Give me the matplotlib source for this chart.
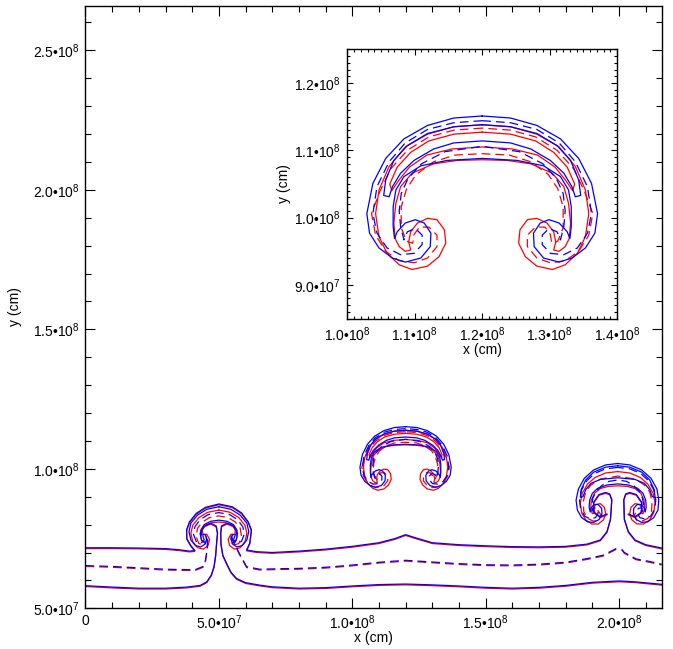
import numpy as np
import matplotlib
matplotlib.use('Agg')
import matplotlib.pyplot as plt
from matplotlib.ticker import MultipleLocator
from matplotlib import transforms

plt.rcParams['font.family'] = ['Liberation Sans', 'DejaVu Sans']
plt.rcParams['mathtext.fontset'] = 'custom'
plt.rcParams['mathtext.rm'] = 'Liberation Sans'
plt.rcParams['mathtext.default'] = 'regular'

# all coordinates in units of 1e7 cm
# interfaces across the box
top_solid_a = [(0, 7.17), (1, 7.17), (2, 7.16), (3, 7.14), (3.5, 7.1), (3.9, 7.05), (4.1, 7.07),
               (3.95, 7.25), (3.8, 7.5), (3.79, 7.81), (3.9, 8.1), (4.15, 8.4), (4.5, 8.62), (5.0, 8.74),
               (5.5, 8.64), (5.85, 8.42), (6.1, 8.1), (6.22, 7.81), (6.16, 7.34), (6.04, 7.09),
               (6.41, 7.03), (7, 7.0), (8, 7.05), (9, 7.12), (10, 7.22), (11, 7.35), (11.6, 7.5), (12.0, 7.64),
               (12.4, 7.52), (13, 7.35), (14, 7.28), (15, 7.24), (16, 7.21), (17, 7.2), (18, 7.22),
               (18.8, 7.3), (19.3, 7.45), (19.55, 7.75), (19.68, 8.2), (19.73, 8.9), (19.65, 9.1),
               (19.5, 9.15), (19.25, 9.08), (19.05, 8.8), (19.05, 8.45), (19.3, 8.28), (19.55, 8.38)]
top_solid_b = [(20.35, 8.38), (20.6, 8.28), (20.85, 8.45), (20.85, 8.8), (20.65, 9.08), (20.4, 9.15),
               (20.25, 9.1), (20.18, 8.9), (20.2, 8.2), (20.35, 7.75), (20.6, 7.45), (21.0, 7.28),
               (21.6, 7.16)]
bottom_solid_a = [(0, 5.81), (1, 5.76), (2, 5.72), (3, 5.72), (3.8, 5.76), (4.3, 5.82), (4.55, 5.95),
                  (4.72, 6.2), (4.82, 6.5), (4.88, 6.9), (4.92, 7.4), (4.95, 7.7), (4.9, 7.95),
                  (4.7, 8.05), (4.45, 7.95), (4.3, 7.7), (4.35, 7.45), (4.5, 7.35)]
bottom_solid_b = [(5.5, 7.35), (5.65, 7.45), (5.7, 7.7), (5.55, 7.95), (5.3, 8.05), (5.1, 7.95),
                  (5.07, 7.7), (5.08, 7.3), (5.15, 6.9), (5.29, 6.61), (5.45, 6.3), (5.66, 6.07),
                  (6.0, 5.92), (6.54, 5.83), (7, 5.77), (8, 5.72), (9, 5.74), (10, 5.8), (11, 5.85),
                  (12, 5.87), (13, 5.84), (14, 5.8), (15, 5.75), (16, 5.72), (17, 5.75), (18, 5.82),
                  (19, 5.93), (20, 5.98), (20.6, 5.95), (21.6, 5.86)]
mid_dash_a = [(0, 6.53), (1, 6.5), (2, 6.45), (3, 6.4), (4.1, 6.38), (4.41, 6.5), (4.5, 6.73),
              (4.56, 7.1), (4.58, 7.45), (4.52, 7.6)]
mid_dash_b = [(5.45, 7.6), (5.53, 7.45), (5.75, 7.0), (6.04, 6.49), (6.54, 6.4), (7.3, 6.42),
              (8, 6.43), (9, 6.47), (10, 6.55), (11, 6.65), (12, 6.72), (13, 6.66), (14, 6.6),
              (15, 6.56), (16, 6.55), (17, 6.58), (18, 6.65), (18.8, 6.78), (19.4, 6.9),
              (19.83, 7.11), (20.0, 7.2)]
mid_dash_c = [(20.1, 7.12), (20.2, 7.0), (20.64, 6.77), (21.14, 6.68), (21.6, 6.58)]

# left mushroom cap (x ~ 5e7)
left_blue_solid = [(5.0, 8.64), (4.55, 8.55), (4.2, 8.34), (3.95, 8.05), (3.88, 7.75), (3.95, 7.45),
                   (4.12, 7.25), (4.32, 7.2), (4.48, 7.3), (4.55, 7.5), (4.48, 7.65), (4.36, 7.62),
                   (4.32, 7.8), (4.45, 8.0), (4.7, 8.12), (5.0, 8.16), (5.3, 8.12), (5.55, 8.0),
                   (5.68, 7.8), (5.64, 7.62), (5.52, 7.65), (5.45, 7.5), (5.52, 7.3), (5.68, 7.2),
                   (5.88, 7.25), (6.05, 7.45), (6.12, 7.75), (6.05, 8.05), (5.8, 8.34), (5.45, 8.55),
                   (5.0, 8.64)]
left_red_solid = [(5.0, 8.55), (4.58, 8.47), (4.25, 8.28), (4.02, 8.0), (3.95, 7.72), (4.02, 7.42),
                  (4.2, 7.2), (4.42, 7.15), (4.6, 7.28), (4.65, 7.5), (4.55, 7.68), (4.4, 7.68),
                  (4.38, 7.85), (4.52, 8.02), (4.75, 8.1), (5.0, 8.12), (5.25, 8.1), (5.48, 8.02),
                  (5.62, 7.85), (5.6, 7.68), (5.45, 7.68), (5.35, 7.5), (5.4, 7.28), (5.58, 7.15),
                  (5.8, 7.2), (5.98, 7.42), (6.05, 7.72), (5.98, 8.0), (5.75, 8.28), (5.42, 8.47),
                  (5.0, 8.55)]
left_blue_dash = [(4.4, 7.6), (4.45, 7.45), (4.32, 7.32), (4.15, 7.4), (4.05, 7.65), (4.1, 7.92),
                  (4.3, 8.18), (4.6, 8.36), (5.0, 8.43), (5.4, 8.36), (5.7, 8.18), (5.9, 7.92),
                  (5.95, 7.65), (5.85, 7.4), (5.68, 7.32), (5.55, 7.45), (5.6, 7.6)]
left_red_dash = [(4.5, 7.65), (4.55, 7.45), (4.42, 7.3), (4.25, 7.35), (4.15, 7.6), (4.2, 7.9),
                 (4.38, 8.12), (4.65, 8.28), (5.0, 8.34), (5.35, 8.28), (5.62, 8.12), (5.8, 7.9),
                 (5.85, 7.6), (5.75, 7.35), (5.58, 7.3), (5.45, 7.45), (5.5, 7.65)]

# detached mushroom (x ~ 1.2e8)
det_blue_a = [(12.0, 11.51), (11.58, 11.48), (11.19, 11.37), (10.84, 11.17), (10.57, 10.88),
              (10.38, 10.51), (10.29, 10.06), (10.33, 9.77), (10.47, 9.55), (10.67, 9.40),
              (10.86, 9.34), (11.09, 9.40), (11.23, 9.57), (11.24, 9.77), (11.14, 9.92),
              (11.01, 9.97), (10.86, 9.92), (10.74, 9.79), (10.70, 9.69), (10.68, 9.87),
              (10.68, 10.16), (10.72, 10.41), (10.84, 10.61), (11.09, 10.77), (11.48, 10.85),
              (12.0, 10.88), (12.52, 10.85), (12.91, 10.77), (13.16, 10.61), (13.28, 10.41),
              (13.32, 10.16), (13.32, 9.87), (13.30, 9.69), (13.26, 9.79), (13.14, 9.92),
              (12.99, 9.97), (12.86, 9.92), (12.76, 9.77), (12.77, 9.57), (12.91, 9.40),
              (13.14, 9.34), (13.33, 9.40), (13.53, 9.55), (13.67, 9.77), (13.71, 10.06),
              (13.62, 10.51), (13.43, 10.88), (13.16, 11.17), (12.81, 11.37), (12.42, 11.48),
              (12.0, 11.51)]
det_blue_b = [(12.0, 11.44), (11.58, 11.41), (11.19, 11.31), (10.86, 11.11), (10.62, 10.83),
              (10.44, 10.46), (10.38, 10.06), (10.44, 9.77), (10.59, 9.55), (10.79, 9.45),
              (10.99, 9.47), (11.11, 9.60), (11.11, 9.74), (11.01, 9.84), (10.89, 9.79),
              (10.84, 9.67), (10.79, 9.87), (10.77, 10.1), (10.8, 10.36), (10.9, 10.58),
              (11.1, 10.8), (11.45, 10.98), (12.0, 11.06), (12.55, 10.98), (12.9, 10.8),
              (13.1, 10.58), (13.2, 10.36), (13.23, 10.1), (13.21, 9.87), (13.16, 9.67),
              (13.11, 9.79), (12.99, 9.84), (12.89, 9.74), (12.89, 9.60), (13.01, 9.47),
              (13.21, 9.45), (13.41, 9.55), (13.56, 9.77), (13.62, 10.06), (13.56, 10.46),
              (13.38, 10.83), (13.14, 11.11), (12.81, 11.31), (12.42, 11.41), (12.0, 11.44)]
det_blue_c = [(12.0, 11.38), (11.58, 11.35), (11.19, 11.25), (10.89, 11.07), (10.69, 10.85),
              (10.57, 10.56), (10.54, 10.33), (10.62, 10.31), (10.67, 10.46), (10.79, 10.66),
              (10.99, 10.85), (11.28, 11.02), (11.58, 11.11), (12.0, 11.14), (12.42, 11.11),
              (12.72, 11.02), (13.01, 10.85), (13.21, 10.66), (13.33, 10.46), (13.38, 10.31),
              (13.46, 10.33), (13.43, 10.56), (13.31, 10.85), (13.11, 11.07), (12.81, 11.25),
              (12.42, 11.35), (12.0, 11.38)]
det_red_a = [(12.0, 11.38), (11.58, 11.35), (11.19, 11.24), (10.86, 11.05), (10.62, 10.76),
             (10.47, 10.41), (10.42, 10.06), (10.47, 9.72), (10.59, 9.47), (10.77, 9.30),
             (10.96, 9.23), (11.19, 9.28), (11.36, 9.42), (11.46, 9.62), (11.44, 9.82),
             (11.33, 9.97), (11.19, 9.99), (11.04, 9.92), (10.94, 9.79), (10.91, 9.64),
             (10.94, 9.52), (10.86, 9.50), (10.77, 9.57), (10.71, 9.69), (10.69, 9.92),
             (10.72, 10.21), (10.79, 10.46), (10.96, 10.66), (11.28, 10.80), (11.63, 10.85),
             (12.0, 10.86), (12.37, 10.85), (12.72, 10.80), (13.04, 10.66), (13.21, 10.46),
             (13.28, 10.21), (13.31, 9.92), (13.29, 9.69), (13.23, 9.57), (13.14, 9.50),
             (13.06, 9.52), (13.09, 9.64), (13.06, 9.79), (12.96, 9.92), (12.81, 9.99),
             (12.67, 9.97), (12.56, 9.82), (12.54, 9.62), (12.64, 9.42), (12.81, 9.28),
             (13.04, 9.23), (13.23, 9.30), (13.41, 9.47), (13.53, 9.72), (13.58, 10.06),
             (13.53, 10.41), (13.38, 10.76), (13.14, 11.05), (12.81, 11.24), (12.42, 11.35),
             (12.0, 11.38)]
det_red_b = [(12.0, 11.33), (11.58, 11.3), (11.21, 11.2), (10.89, 11.0), (10.64, 10.72),
             (10.48, 10.38), (10.36, 10.06), (10.42, 9.74), (10.57, 9.5), (10.77, 9.36),
             (10.99, 9.33), (11.19, 9.4), (11.33, 9.57), (11.33, 9.74), (11.21, 9.86),
             (11.07, 9.86), (10.99, 9.75), (10.97, 9.62), (10.88, 9.65), (10.8, 9.85),
             (10.8, 10.16), (10.88, 10.43), (11.02, 10.64), (11.28, 10.83), (11.6, 10.93),
             (12.0, 10.95), (12.4, 10.93), (12.72, 10.83), (12.98, 10.64), (13.12, 10.43),
             (13.2, 10.16), (13.2, 9.85), (13.12, 9.65), (13.03, 9.62), (13.01, 9.75),
             (12.93, 9.86), (12.79, 9.86), (12.67, 9.74), (12.67, 9.57), (12.81, 9.4),
             (13.01, 9.33), (13.23, 9.36), (13.43, 9.5), (13.58, 9.74), (13.64, 10.06),
             (13.52, 10.38), (13.36, 10.72), (13.11, 11.0), (12.79, 11.2), (12.42, 11.3),
             (12.0, 11.33)]
det_red_c = [(12.0, 11.27), (11.58, 11.24), (11.21, 11.14), (10.94, 10.97), (10.74, 10.75),
             (10.63, 10.5), (10.66, 10.4), (10.76, 10.55), (10.92, 10.75), (11.18, 10.93),
             (11.55, 11.02), (12.0, 11.05), (12.45, 11.02), (12.82, 10.93), (13.08, 10.75),
             (13.24, 10.55), (13.34, 10.4), (13.37, 10.5), (13.26, 10.75), (13.06, 10.97),
             (12.79, 11.14), (12.42, 11.24), (12.0, 11.27)]

# right mushroom cap (x ~ 2e8)
right_blue_a = [(19.95, 10.19), (19.5, 10.14), (19.05, 9.96), (18.7, 9.66), (18.48, 9.28),
                (18.39, 8.88), (18.44, 8.52), (18.6, 8.25), (18.82, 8.1), (19.05, 8.08),
                (19.25, 8.18), (19.36, 8.38), (19.35, 8.58), (19.22, 8.72), (19.06, 8.72),
                (18.96, 8.6), (18.92, 8.45), (18.88, 8.62), (18.9, 8.88), (19.0, 9.12),
                (19.2, 9.3), (19.55, 9.42), (19.95, 9.46), (20.35, 9.42), (20.7, 9.3),
                (20.9, 9.12), (21.0, 8.88), (21.02, 8.62), (20.98, 8.45), (20.94, 8.6),
                (20.84, 8.72), (20.68, 8.72), (20.55, 8.58), (20.54, 8.38), (20.65, 8.18),
                (20.85, 8.08), (21.08, 8.1), (21.3, 8.25), (21.46, 8.52), (21.49, 8.88),
                (21.42, 9.28), (21.2, 9.66), (20.85, 9.96), (20.4, 10.14), (19.95, 10.19)]
right_blue_b = [(19.95, 10.05), (19.5, 10.0), (19.1, 9.84), (18.8, 9.58), (18.6, 9.25),
                (18.52, 8.88), (18.56, 8.55), (18.72, 8.3), (18.92, 8.2), (19.12, 8.25),
                (19.22, 8.42), (19.18, 8.58), (19.06, 8.6), (19.02, 8.48), (18.98, 8.7),
                (19.02, 8.95), (19.15, 9.2), (19.35, 9.4), (19.62, 9.55), (19.95, 9.6),
                (20.28, 9.55), (20.55, 9.4), (20.75, 9.2), (20.88, 8.95), (20.92, 8.7),
                (20.88, 8.48), (20.84, 8.6), (20.72, 8.58), (20.68, 8.42), (20.78, 8.25),
                (20.98, 8.2), (21.18, 8.3), (21.34, 8.55), (21.38, 8.88), (21.3, 9.25),
                (21.1, 9.58), (20.8, 9.84), (20.4, 10.0), (19.95, 10.05)]
right_blue_c = [(19.95, 10.11), (19.5, 10.06), (19.05, 9.88), (18.75, 9.6), (18.58, 9.25),
                (18.55, 8.98), (18.65, 9.0), (18.75, 9.25), (18.95, 9.48), (19.3, 9.62),
                (19.95, 9.68), (20.6, 9.62), (20.95, 9.48), (21.15, 9.25), (21.25, 9.0),
                (21.35, 8.98), (21.32, 9.25), (21.15, 9.6), (20.85, 9.88), (20.4, 10.06),
                (19.95, 10.11)]
right_red_a = [(19.95, 9.93), (19.5, 9.88), (19.1, 9.72), (18.82, 9.48), (18.62, 9.15),
               (18.55, 8.8), (18.6, 8.45), (18.75, 8.2), (18.98, 8.05), (19.22, 8.05),
               (19.42, 8.2), (19.5, 8.42), (19.45, 8.65), (19.3, 8.78), (19.12, 8.75),
               (19.05, 8.6), (19.1, 8.45), (19.0, 8.42), (18.94, 8.6), (18.96, 8.9),
               (19.08, 9.15), (19.3, 9.32), (19.6, 9.4), (19.95, 9.42), (20.3, 9.4),
               (20.6, 9.32), (20.82, 9.15), (20.94, 8.9), (20.96, 8.6), (20.9, 8.42),
               (20.8, 8.45), (20.85, 8.6), (20.78, 8.75), (20.6, 8.78), (20.45, 8.65),
               (20.4, 8.42), (20.48, 8.2), (20.68, 8.05), (20.92, 8.05), (21.15, 8.2),
               (21.3, 8.45), (21.35, 8.8), (21.28, 9.15), (21.08, 9.48), (20.8, 9.72),
               (20.4, 9.88), (19.95, 9.93)]
right_red_b = [(19.2, 8.55), (19.32, 8.38), (19.25, 8.2), (19.05, 8.15), (18.82, 8.25),
               (18.68, 8.5), (18.66, 8.85), (18.75, 9.2), (18.95, 9.45), (19.3, 9.66),
               (19.95, 9.77), (20.6, 9.66), (20.95, 9.45), (21.15, 9.2), (21.24, 8.85),
               (21.22, 8.5), (21.08, 8.25), (20.85, 8.15), (20.65, 8.2), (20.58, 8.38),
               (20.7, 8.55)]

x_ticks = [0, 5e7, 1e8, 1.5e8, 2e8]
x_tick_labels = ['0', '5.0•10$^{7}$', '1.0•10$^{8}$', '1.5•10$^{8}$', '2.0•10$^{8}$']
y_ticks = [5e7, 1e8, 1.5e8, 2e8, 2.5e8]
y_tick_labels = ['5.0•10$^{7}$', '1.0•10$^{8}$', '1.5•10$^{8}$', '2.0•10$^{8}$', '2.5•10$^{8}$']
ix_ticks = [1.0e8, 1.1e8, 1.2e8, 1.3e8, 1.4e8]
ix_tick_labels = ['1.0•10$^{8}$', '1.1•10$^{8}$', '1.2•10$^{8}$', '1.3•10$^{8}$', '1.4•10$^{8}$']
iy_ticks = [9e7, 1.0e8, 1.1e8, 1.2e8]
iy_tick_labels = ['9.0•10$^{7}$', '1.0•10$^{8}$', '1.1•10$^{8}$', '1.2•10$^{8}$']

solid_blue = [top_solid_a, top_solid_b, bottom_solid_a, bottom_solid_b, left_blue_solid,
              right_blue_a, right_blue_c]
solid_red = [top_solid_a, top_solid_b, bottom_solid_a, bottom_solid_b, left_red_solid,
             right_red_a]
dash_blue = [mid_dash_a, mid_dash_b, mid_dash_c, left_blue_dash, right_blue_b]
dash_red = [mid_dash_a, mid_dash_b, mid_dash_c, left_red_dash, right_red_b]
det_solid_blue = [det_blue_a, det_blue_c]
det_solid_red = [det_red_a, det_red_c]
det_dash_blue = [det_blue_b]
det_dash_red = [det_red_b]

fig = plt.figure(figsize=(6.73, 6.49), dpi=100)
ax = fig.add_axes([0.127, 0.0627, 0.8562, 0.9285])
ins = fig.add_axes([0.516, 0.509, 0.401, 0.415])

lw = 0.9


def draw(a, curves, color, dashed, shift):
    tr = transforms.offset_copy(a.transData, fig=fig, x=0, y=shift, units='dots')
    for c in curves:
        p = np.array(c) * 1e7
        if dashed:
            a.plot(p[:, 0], p[:, 1], color=color, lw=lw, dashes=(7, 4), transform=tr)
        else:
            a.plot(p[:, 0], p[:, 1], color=color, lw=lw, transform=tr)


draw(ax, solid_red, 'red', False, -0.8)
draw(ax, dash_red, 'red', True, -0.8)
draw(ax, solid_blue, 'blue', False, 0)
draw(ax, dash_blue, 'blue', True, 0)
for a in (ax, ins):
    draw(a, det_solid_red, 'red', False, 0)
    draw(a, det_dash_red, 'red', True, 0)
    draw(a, det_solid_blue, 'blue', False, 0)
    draw(a, det_dash_blue, 'blue', True, 0)

ax.set_xlim(0, 2.16e8)
ax.set_ylim(5e7, 2.66e8)
ax.set_xticks(x_ticks)
ax.set_xticklabels(x_tick_labels)
ax.set_yticks(y_ticks)
ax.set_yticklabels(y_tick_labels)
ax.xaxis.set_minor_locator(MultipleLocator(1e7))
ax.yaxis.set_minor_locator(MultipleLocator(1e7))
ax.tick_params(which='both', direction='in', top=True, right=True, labelsize=10, width=0.8)
ax.tick_params(which='major', length=7.5, pad=4)
ax.tick_params(which='minor', length=4)
ax.set_xlabel('x (cm)', fontsize=10)
ax.xaxis.set_label_coords(0.5, -0.038)
ax.set_ylabel('y (cm)', fontsize=10, labelpad=8)

ins.set_facecolor('white')
ins.set_xlim(1.0e8, 1.4e8)
ins.set_ylim(8.5e7, 1.25e8)
ins.set_xticks(ix_ticks)
ins.set_xticklabels(ix_tick_labels)
ins.set_yticks(iy_ticks)
ins.set_yticklabels(iy_tick_labels)
ins.xaxis.set_minor_locator(MultipleLocator(1e6))
ins.yaxis.set_minor_locator(MultipleLocator(1e6))
ins.tick_params(which='both', direction='in', top=True, right=True, labelsize=10, width=0.8)
ins.tick_params(which='major', length=4, pad=5)
ins.tick_params(which='minor', length=2)
ins.set_xlabel('x (cm)', fontsize=10, labelpad=-1)
ins.set_ylabel('y (cm)', fontsize=10, labelpad=2)

for a in (ax, ins):
    for s in a.spines.values():
        s.set_linewidth(1.0)

fig.savefig('out.png', dpi=100)
